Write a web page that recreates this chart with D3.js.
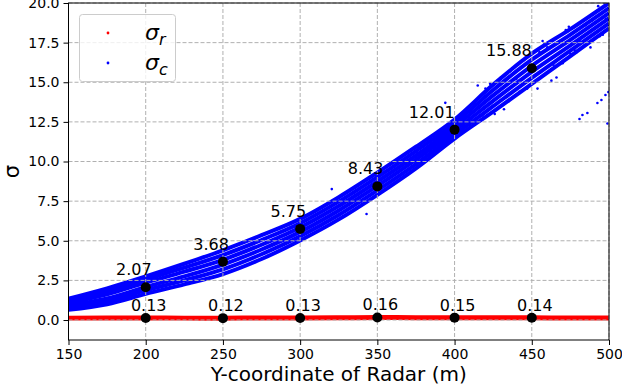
<!DOCTYPE html>
<html>
<head>
<meta charset="utf-8">
<script src="https://cdn.jsdelivr.net/npm/d3@7"></script>
<style>
  body { margin: 0; background: #fff; }
  text { font-family: "DejaVu Sans", sans-serif; }
</style>
</head>
<body>
<div id="canvas"></div>
<script>
// sample positions along the radar y-coordinate (m)
const xs = [150, 175, 200, 225, 250, 275, 300, 325, 350, 375, 400, 425, 450, 475, 500];

// sigma_c tracks (blue band is made of several overlapping runs)
const trackA = [0.65, 1.00, 1.65, 2.25, 2.90, 3.85, 5.02, 6.35, 7.90, 9.57, 11.45, 13.15, 14.90, 16.65, 18.40];
const trackB = [0.79, 1.18, 1.87, 2.50, 3.20, 4.15, 5.29, 6.63, 8.18, 9.84, 11.69, 13.49, 15.28, 16.99, 18.72];
const trackC = [0.93, 1.36, 2.08, 2.75, 3.50, 4.45, 5.56, 6.91, 8.46, 10.12, 11.93, 13.83, 15.66, 17.33, 19.04];
const trackD = [1.07, 1.62, 2.36, 3.05, 3.80, 4.75, 5.84, 7.19, 8.74, 10.38, 12.17, 14.17, 16.04, 17.67, 19.36];
const trackE = [1.21, 1.80, 2.55, 3.30, 4.10, 5.05, 6.11, 7.47, 9.02, 10.66, 12.41, 14.51, 16.42, 18.01, 19.68];
const trackF = [1.35, 2.00, 2.75, 3.55, 4.40, 5.35, 6.38, 7.75, 9.30, 10.93, 12.65, 14.85, 16.80, 18.35, 20.00];

// sigma_r (red band)
const redBand = [0.12, 0.13, 0.13, 0.12, 0.12, 0.13, 0.13, 0.14, 0.16, 0.15, 0.15, 0.14, 0.14, 0.13, 0.13];

// loose blue points
const strayX = [320.5, 343, 394, 415, 453.7, 457, 462.7, 466, 479, 480.9, 482.8, 486, 492.5, 495.1, 497.7, 499.6, 499,
                430, 436, 440, 445, 455, 460, 468, 472, 485, 490, 493, 488, 496, 478, 470, 420, 410, 418, 426, 435, 442, 475, 484, 498,
                405, 412, 423, 432, 447, 451, 458, 464, 474, 481, 489, 494, 497];
const strayY = [8.26, 6.69, 13.7, 14.8, 14.6, 17.6, 15.1, 15.3, 16.9, 12.68, 12.93, 13.06, 13.69, 13.88, 14.2, 14.38, 12.4,
                15.3, 15.7, 15.2, 16.4, 16.9, 17.2, 17.6, 18.3, 18.6, 19.3, 19.8, 17.2, 18.0, 17.0, 16.2, 14.6, 13.5, 12.9, 13.0, 13.8, 14.4, 16.8, 17.3, 19.0,
                13.0, 12.4, 14.9, 13.3, 14.6, 16.9, 17.4, 16.1, 18.5, 17.6, 18.9, 17.9, 20.0];

// highlighted values
const markX = [200, 250, 300, 350, 400, 450];
const blueMarks = [2.07, 3.68, 5.75, 8.43, 12.01, 15.88];
const redMarks = [0.13, 0.12, 0.13, 0.16, 0.15, 0.14];

const xTicks = [150, 200, 250, 300, 350, 400, 450, 500];
const yTicks = [0, 2.5, 5, 7.5, 10, 12.5, 15, 17.5, 20];

const W = 622, H = 389;
const box = {left: 68.5, right: 609, top: 3, bottom: 340};

const svg = d3.select("#canvas")
    .append("svg")
    .attr("width", W)
    .attr("height", H);

const x = d3.scaleLinear().domain([150, 500]).range([box.left, box.right]);
const y = d3.scaleLinear().domain([-1.26, 20]).range([box.bottom, box.top]);

svg.append("clipPath").attr("id", "plot")
    .append("rect")
    .attr("x", box.left).attr("y", box.top)
    .attr("width", box.right - box.left).attr("height", box.bottom - box.top);

const plot = svg.append("g").attr("clip-path", "url(#plot)");

// blue tracks
const line = d3.line()
    .x((d, i) => x(xs[i]))
    .y(d => y(d))
    .curve(d3.curveMonotoneX);

[trackA, trackB, trackC, trackD, trackE, trackF].forEach(function(t) {
    plot.append("path")
        .attr("d", line(t))
        .attr("fill", "none")
        .attr("stroke", "#0000ff")
        .attr("stroke-width", 4);
});

plot.selectAll(".stray")
    .data(strayX)
    .enter()
    .append("circle")
    .attr("cx", d => x(d))
    .attr("cy", (d, i) => y(strayY[i]))
    .attr("r", 1.3)
    .attr("fill", "#0000ff");

// red band
plot.append("path")
    .attr("d", line(redBand))
    .attr("fill", "none")
    .attr("stroke", "#ff0000")
    .attr("stroke-width", 5);

// grid sits above the scatter, like matplotlib's default
const grid = svg.append("g")
    .attr("stroke", "#b0b0b0")
    .attr("stroke-width", 1)
    .attr("stroke-dasharray", "4,2");
xTicks.forEach(function(t) {
    grid.append("line")
        .attr("x1", x(t)).attr("x2", x(t))
        .attr("y1", box.top).attr("y2", box.bottom);
});
yTicks.forEach(function(t) {
    grid.append("line")
        .attr("x1", box.left).attr("x2", box.right)
        .attr("y1", y(t)).attr("y2", y(t));
});

// markers and their labels
svg.selectAll(".bm")
    .data(markX)
    .enter()
    .append("circle")
    .attr("cx", d => x(d))
    .attr("cy", (d, i) => y(blueMarks[i]))
    .attr("r", 5)
    .attr("fill", "#000");

svg.selectAll(".rm")
    .data(markX)
    .enter()
    .append("circle")
    .attr("cx", d => x(d))
    .attr("cy", (d, i) => y(redMarks[i]))
    .attr("r", 5)
    .attr("fill", "#000");

svg.selectAll(".bl")
    .data(markX)
    .enter()
    .append("text")
    .attr("x", (d, i) => x(d) + (blueMarks[i].toFixed(2).length > 4 ? 0 : 6))
    .attr("y", (d, i) => y(blueMarks[i]) - 12)
    .attr("text-anchor", "end")
    .attr("font-size", 16)
    .text((d, i) => blueMarks[i].toFixed(2));

svg.selectAll(".rl")
    .data(markX)
    .enter()
    .append("text")
    .attr("x", d => x(d) + 3)
    .attr("y", (d, i) => y(redMarks[i]) - 7)
    .attr("text-anchor", "middle")
    .attr("font-size", 16)
    .text((d, i) => redMarks[i].toFixed(2));

// axes
const xAxis = svg.append("g")
    .attr("transform", "translate(0," + box.bottom + ")")
    .call(d3.axisBottom(x).tickValues(xTicks).tickSize(5).tickPadding(4).tickFormat(d3.format("d")));
const yAxis = svg.append("g")
    .attr("transform", "translate(" + box.left + ",0)")
    .call(d3.axisLeft(y).tickValues(yTicks).tickSize(5).tickPadding(4).tickFormat(d3.format(".1f")));
[xAxis, yAxis].forEach(function(a) {
    a.select(".domain").remove();
    a.selectAll("text").attr("font-size", 14).attr("fill", "#000")
        .style("font-family", "DejaVu Sans");
    a.selectAll("line").attr("stroke", "#000").attr("stroke-width", 1);
});

svg.append("rect")
    .attr("x", box.left).attr("y", box.top)
    .attr("width", box.right - box.left).attr("height", box.bottom - box.top)
    .attr("fill", "none")
    .attr("stroke", "#000")
    .attr("stroke-width", 1);

// axis titles
svg.append("text")
    .attr("x", (box.left + box.right) / 2)
    .attr("y", 381)
    .attr("text-anchor", "middle")
    .attr("font-size", 20)
    .text("Y-coordinate of Radar (m)");

svg.append("text")
    .attr("transform", "translate(19," + ((box.top + box.bottom) / 2) + ") rotate(-90)")
    .attr("text-anchor", "middle")
    .attr("font-size", 21)
    .text("σ");

// legend
const legend = svg.append("g");
legend.append("rect")
    .attr("x", 79.5).attr("y", 14.5)
    .attr("width", 96).attr("height", 67)
    .attr("rx", 3)
    .attr("fill", "#fff")
    .attr("fill-opacity", 0.8)
    .attr("stroke", "#cccccc");
const legendItems = [{c: "#ff0000", s: "r"}, {c: "#0000ff", s: "c"}];
legendItems.forEach(function(it, i) {
    const cy = 33 + i * 30;
    legend.append("circle")
        .attr("cx", 108).attr("cy", cy).attr("r", 1.4).attr("fill", it.c);
    const t = legend.append("text")
        .attr("x", 145).attr("y", cy + 7)
        .attr("font-size", 22)
        .attr("font-style", "italic");
    t.append("tspan").text("σ");
    t.append("tspan").attr("dy", 5).attr("font-size", 16).text(it.s);
});
</script>
</body>
</html>
